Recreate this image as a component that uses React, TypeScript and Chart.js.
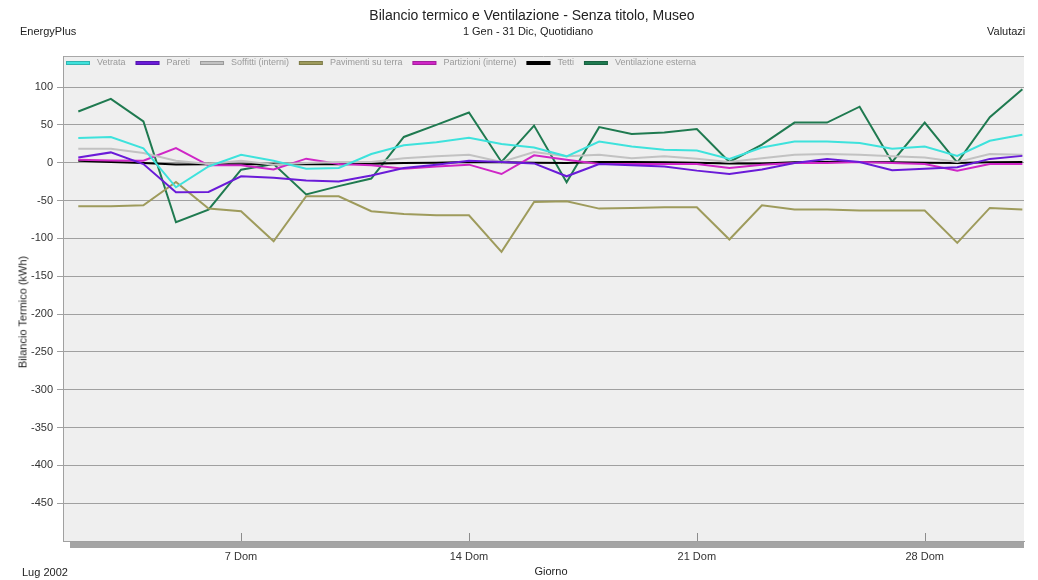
import React, { useEffect, useRef } from "react";
import { Chart, registerables } from "chart.js";

Chart.register(...registerables);

// Days of July 2002 (daily values)
const days = [2, 3, 4, 5, 6, 7, 8, 9, 10, 11, 12, 13, 14, 15, 16, 17, 18, 19, 20, 21, 22, 23, 24, 25, 26, 27, 28, 29, 30, 31];
const xTickDays = [7, 14, 21, 28];
const xTickSuffix = " Dom";
const yTicks = [100, 50, 0, -50, -100, -150, -200, -250, -300, -350, -400, -450];

const vetrata = [32.5, 34, 19, -32.5, -5, 10.5, 2.6, -8, -7, 11.4, 23, 27, 33, 24.6, 20, 8.4, 28, 21.5, 17, 16, 5, 20, 28, 28, 26, 18.5, 21.5, 9, 29, 37];
const pareti = [7, 13.6, -1.8, -39, -38.7, -18, -20, -23.7, -25, -17, -7, -2.6, 2.6, 1, -1, -18, -1.8, -3.5, -5, -10.5, -15, -9, -0.4, 5, 1, -10, -8, -6, 5, 9];
const soffitti = [18.5, 18.5, 12.8, 2.6, -1.8, 2.6, -2.6, -0.4, 1, 1, 6, 8.4, 10.5, 1, 14, 8.4, 10.5, 6, 8.4, 5.3, 1, 6, 10.5, 11.4, 10.5, 8.4, 7, 1, 11.4, 10.5];
const pavimenti = [-57.6, -57.6, -56.3, -25.5, -60.7, -64.2, -103.8, -44.4, -44.4, -64.2, -67.7, -69.5, -69.5, -117.9, -51.9, -51, -60.7, -59.8, -58.9, -58.9, -101.6, -56.3, -62, -62, -63.3, -63.3, -63.3, -106, -59.8, -62];
const partizioni = [4, 3, 2.6, 19.3, -3.5, -3.5, -9, 5.3, -1.8, -3.5, -8, -5, -2.6, -15, 9.7, 4, -1.8, -1.8, -1.8, -1.8, -7, -2.6, -0.4, -0.4, 1, -0.4, -1.8, -10.5, -1.8, -1.8];
const tetti = [2.5, 1, -0.5, -2.5, -2, -2, -2, -2, -2, -1.5, -0.5, 0, 1, 0.5, 0, -0.5, 1, 1, 0.5, 0, -1, -1, 0.5, 1, 1, 0.5, 0, -0.5, 0.5, 1];
const ventilazione = [67.7, 84.4, 54.5, -78.7, -62, -9.2, -1.8, -42, -31, -21, 34, 50, 66.4, 1, 49, -26, 47, 38, 40, 44.4, 1, 24, 53, 53, 74, 1, 53, 0, 60, 97];

const seriesLabels = ["Vetrata", "Pareti", "Soffitti (interni)", "Pavimenti su terra", "Partizioni (interne)", "Tetti", "Ventilazione esterna"];
const seriesValues = [vetrata, pareti, soffitti, pavimenti, partizioni, tetti, ventilazione];
const seriesColors = ["#3ee2dc", "#6a1bd8", "#c2c2c2", "#9e9b5c", "#cf26c6", "#000000", "#1f7a50"];

const FONT = '"Liberation Sans", Arial, Helvetica, sans-serif';

export default function App() {
  const ref = useRef<HTMLCanvasElement>(null);

  useEffect(() => {
    const canvas = ref.current;
    if (!canvas) return;

    const decor = {
      id: "decor",
      beforeDraw(chart: any) {
        const { ctx, chartArea: a } = chart;
        ctx.save();
        ctx.fillStyle = "#efefef";
        ctx.fillRect(a.left, a.top, a.right - a.left, a.bottom - a.top);
        ctx.fillStyle = "#a4a4a4";
        ctx.fillRect(a.left + 7, a.bottom + 1, a.right - a.left - 7, 6);
        ctx.strokeStyle = "#a8a8a8";
        ctx.lineWidth = 1;
        ctx.beginPath();
        ctx.moveTo(a.left, a.top + 0.5);
        ctx.lineTo(a.right, a.top + 0.5);
        ctx.stroke();
        ctx.restore();
      },
      afterDraw(chart: any) {
        const { ctx, chartArea: a } = chart;
        const xs = chart.scales.x;
        ctx.save();
        ctx.strokeStyle = "#8c8c8c";
        ctx.lineWidth = 1;
        xTickDays.forEach((d) => {
          const px = Math.round(xs.getPixelForValue(d)) + 0.5;
          ctx.beginPath();
          ctx.moveTo(px, a.bottom - 8);
          ctx.lineTo(px, a.bottom);
          ctx.stroke();
        });
        // legend inside plot area
        ctx.font = `9px ${FONT}`;
        ctx.textBaseline = "middle";
        let x = a.left + 3;
        const y = a.top + 7;
        chart.data.datasets.forEach((ds: any) => {
          ctx.fillStyle = ds.borderColor;
          ctx.fillRect(x, y - 2, 24, 4);
          ctx.strokeStyle = "rgba(0,0,0,0.2)";
          ctx.strokeRect(x + 0.5, y - 1.5, 23, 3);
          x += 24 + 7;
          ctx.fillStyle = "#9a9a9a";
          ctx.fillText(ds.label, x, y);
          x += ctx.measureText(ds.label).width + 10;
        });
        ctx.restore();
      },
    };

    const chart = new Chart(canvas, {
      type: "line",
      data: {
        datasets: seriesLabels.map((label, i) => ({
          label,
          data: seriesValues[i].map((v, j) => ({ x: days[j], y: v })),
          borderColor: seriesColors[i],
          backgroundColor: seriesColors[i],
          borderWidth: 2,
          pointRadius: 0,
          tension: 0,
          fill: false,
        })),
      },
      options: {
        responsive: false,
        animation: false,
        devicePixelRatio: 1,
        layout: { padding: { left: 0, top: 56, right: 14, bottom: 0 } },
        plugins: { legend: { display: false }, tooltip: { enabled: false }, title: { display: false } },
        scales: {
          x: {
            type: "linear",
            min: 1.53,
            max: 31.05,
            afterBuildTicks: (s: any) => {
              s.ticks = xTickDays.map((v) => ({ value: v }));
            },
            afterFit: (s: any) => {
              s.height = 39;
            },
            ticks: {
              callback: (v: any) => `${v}${xTickSuffix}`,
              autoSkip: false,
              maxRotation: 0,
              font: { family: FONT, size: 11 },
              color: "#333333",
              padding: 9,
            },
            grid: { display: true, drawOnChartArea: false, drawTicks: false },
            border: { display: true, color: "#a0a0a0", width: 1 },
          },
          y: {
            type: "linear",
            min: -500,
            max: 141,
            afterBuildTicks: (s: any) => {
              s.ticks = yTicks.map((v) => ({ value: v }));
            },
            afterFit: (s: any) => {
              s.width = 63;
            },
            ticks: {
              font: { family: FONT, size: 11 },
              color: "#333333",
              padding: 4,
            },
            grid: { color: "#a0a0a0", lineWidth: 1, tickLength: 6, tickColor: "#a0a0a0" },
            border: { display: true, color: "#a0a0a0", width: 1 },
          },
        },
      },
      plugins: [decor],
    });

    return () => chart.destroy();
  }, []);

  const txt = (extra: React.CSSProperties): React.CSSProperties => ({
    position: "absolute",
    whiteSpace: "nowrap",
    lineHeight: 1,
    color: "#222",
    fontFamily: FONT,
    fontSize: 11,
    ...extra,
  });

  return (
    <div style={{ position: "absolute", left: 0, top: 0, width: 1038, height: 580, background: "#fff", overflow: "hidden" }}>
      <canvas ref={ref} width={1038} height={580} style={{ display: "block", width: 1038, height: 580 }} />
      <div style={txt({ left: 532, top: 15, fontSize: 14, transform: "translate(-50%, -50%)" })}>
        Bilancio termico e Ventilazione - Senza titolo, Museo
      </div>
      <div style={txt({ left: 20, top: 31, transform: "translate(0, -50%)" })}>EnergyPlus</div>
      <div style={txt({ left: 528, top: 31, transform: "translate(-50%, -50%)" })}>1 Gen - 31 Dic, Quotidiano</div>
      <div style={txt({ left: 987, top: 31, transform: "translate(0, -50%)" })}>Valutazi</div>
      <div style={txt({ left: 22, top: 572, transform: "translate(0, -50%)" })}>Lug 2002</div>
      <div style={txt({ left: 551, top: 571, transform: "translate(-50%, -50%)" })}>Giorno</div>
      <div style={txt({ left: 23, top: 312, transform: "translate(-50%, -50%) rotate(-90deg)" })}>Bilancio Termico (kWh)</div>
    </div>
  );
}
